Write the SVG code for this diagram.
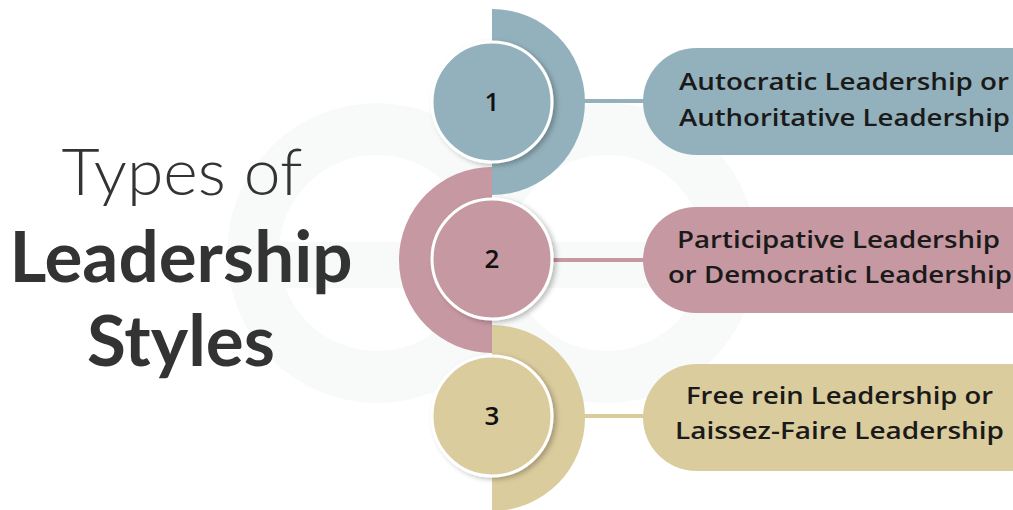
<svg xmlns="http://www.w3.org/2000/svg" width="1013" height="510" viewBox="0 0 1013 510">
<defs>
<style>
.title{font-family:Lato,"Open Sans",sans-serif;fill:#333;text-anchor:middle}
.lbl{font-family:"Open Sans","Noto Sans",sans-serif;font-weight:600;font-size:23px;fill:#1a1a1a;text-anchor:middle}
.num{font-family:"Open Sans","Noto Sans",sans-serif;font-weight:600;font-size:26px;fill:#111;text-anchor:middle}
.wm{fill:none;stroke:#f8fafa;stroke-width:52}
.blue{fill:#93b1bc}.pink{fill:#c698a2}.gold{fill:#dbcc9d}
.circ{stroke:#fff;stroke-width:3;filter:url(#sh)}
</style>
<filter id="sh" x="-20%" y="-20%" width="140%" height="140%">
<feDropShadow dx="3" dy="2" stdDeviation="2.5" flood-color="#000" flood-opacity="0.25"/>
</filter>
</defs>
<rect width="1013" height="510" fill="#fff"/>
<g id="watermark">
<circle class="wm" cx="377" cy="253" r="124"/>
<circle class="wm" cx="607" cy="253" r="124"/>
<rect x="240" y="242" width="500" height="46" fill="#f8fafa"/>
</g>
<g id="title">
<text class="title" x="182" y="195" font-size="66" font-weight="300">Types of</text>
<text class="title" x="181" y="282" font-size="71" font-weight="bold">Leadership</text>
<text class="title" x="181" y="366" font-size="71" font-weight="bold">Styles</text>
</g>
<g id="connectors">
<line x1="580" y1="101" x2="650" y2="101" stroke="#93b1bc" stroke-width="4"/>
<line x1="550" y1="260" x2="650" y2="260" stroke="#c698a2" stroke-width="4"/>
<line x1="580" y1="416" x2="650" y2="416" stroke="#dbcc9d" stroke-width="4"/>
</g>
<g id="arcs">
<path class="blue" d="M492 9 A93 93 0 0 1 492 195 Z"/>
<path class="gold" d="M492 325 A93 93 0 0 1 492 511 Z"/>
<path class="pink" d="M492 167 A93 93 0 0 0 492 353 Z"/>
</g>
<g id="node1">
<circle class="blue circ" cx="492" cy="102" r="60"/>
<text class="num" x="492" y="111">1</text>
<rect class="blue" x="643" y="48" width="430" height="107" rx="53.5"/>
<text class="lbl" x="844" y="90" textLength="330" lengthAdjust="spacingAndGlyphs">Autocratic Leadership or</text>
<text class="lbl" x="844.5" y="126" textLength="331" lengthAdjust="spacingAndGlyphs">Authoritative Leadership</text>
</g>
<g id="node2">
<circle class="pink circ" cx="492" cy="259" r="60"/>
<text class="num" x="492" y="268">2</text>
<rect class="pink" x="643" y="207" width="430" height="106" rx="53"/>
<text class="lbl" x="838.5" y="248" textLength="323" lengthAdjust="spacingAndGlyphs">Participative Leadership</text>
<text class="lbl" x="840" y="283" textLength="344" lengthAdjust="spacingAndGlyphs">or Democratic Leadership</text>
</g>
<g id="node3">
<circle class="gold circ" cx="492" cy="416" r="60"/>
<text class="num" x="492" y="425">3</text>
<rect class="gold" x="643" y="364" width="430" height="107" rx="53.5"/>
<text class="lbl" x="839.5" y="404" textLength="307" lengthAdjust="spacingAndGlyphs">Free rein Leadership or</text>
<text class="lbl" x="839.5" y="439" textLength="329" lengthAdjust="spacingAndGlyphs">Laissez-Faire Leadership</text>
</g>
</svg>
